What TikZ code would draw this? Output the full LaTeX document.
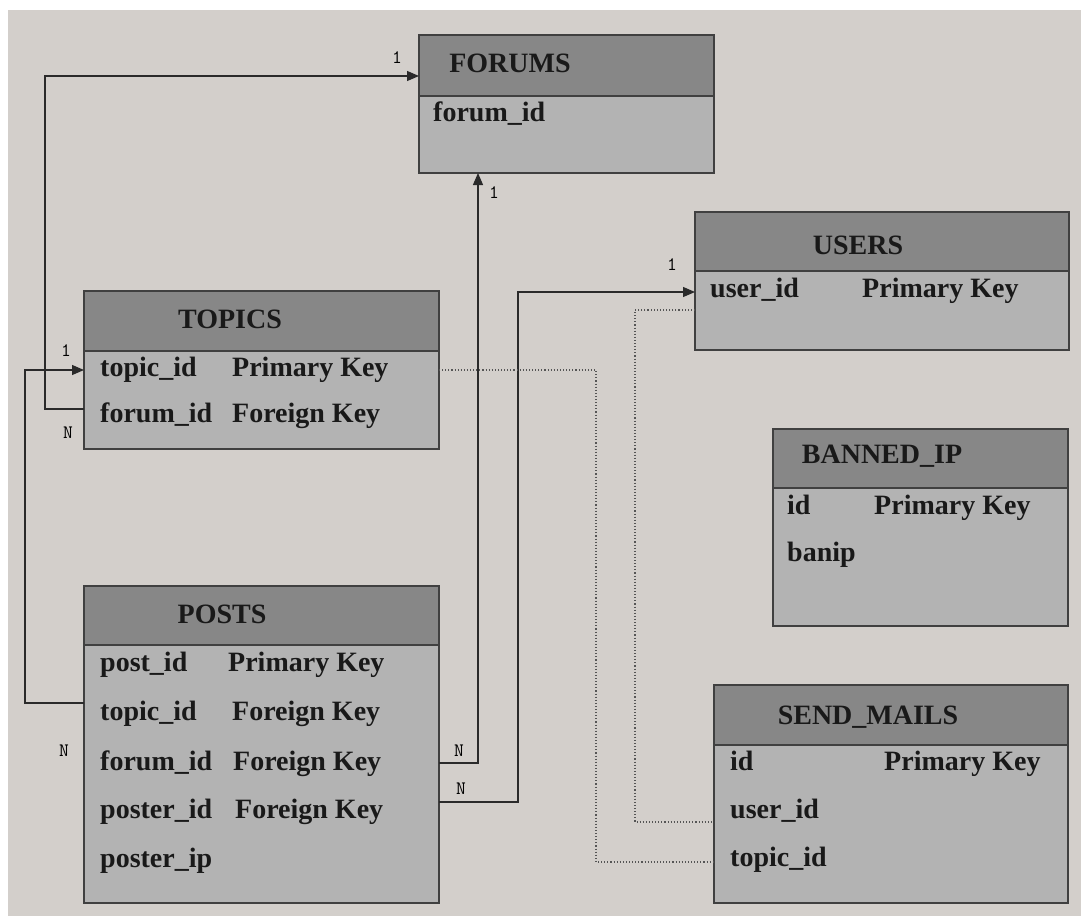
\documentclass[tikz,border=0pt]{standalone}
\usepackage{fontspec}
\setmainfont{Liberation Serif}
\usetikzlibrary{arrows.meta}
\definecolor{paper}{HTML}{D3CFCB}
\definecolor{headfill}{HTML}{878787}
\definecolor{bodyfill}{HTML}{B3B3B3}
\definecolor{boxline}{HTML}{404040}
\definecolor{linecol}{HTML}{2A2A2A}
\definecolor{dotcol}{HTML}{555555}
\begin{document}
\begin{tikzpicture}[x=1pt,y=-1pt,
  frame/.style={draw=boxline, line width=1.4pt, fill=bodyfill, inner sep=0pt, outer sep=0pt, anchor=north west},
  headbar/.style={draw=boxline, line width=1.4pt, fill=headfill, inner sep=0pt, outer sep=0pt, anchor=north west},
  title/.style={font=\bfseries\fontsize{28}{30}\selectfont, inner sep=0pt, text=black!90},
  field/.style={font=\bfseries\fontsize{28}{30}\selectfont, inner sep=0pt, anchor=west, text height=19pt, text depth=6pt, text=black!90},
  link/.style={draw=linecol, line width=1.2pt},
  arrowlink/.style={link, -{Triangle[length=12pt,width=10pt]}},
  dotlink/.style={draw=dotcol, line width=1.1pt, dotted},
  card/.style={font=\ttfamily\fontsize{19}{19}\selectfont, inner sep=0pt, text=black}
]
% canvas
\useasboundingbox (0,0) rectangle (1081,918);
\fill[white] (0,0) rectangle (1081,918);
\fill[paper] (8,10) rectangle (1081,916);

% FORUMS
\node[frame, minimum width=295pt, minimum height=138pt] (forums) at (419,35) {};
\node[headbar, minimum width=295pt, minimum height=61pt] (forums-head) at (forums.north west) {};
\node[title] (forums-title) at (510,63) {FORUMS};
\node[field] (forums-f1) at (433,115) {forum\_id};

% TOPICS
\node[frame, minimum width=355pt, minimum height=158pt] (topics) at (84,291) {};
\node[headbar, minimum width=355pt, minimum height=60pt] (topics-head) at (topics.north west) {};
\node[title] (topics-title) at (230,319) {TOPICS};
\node[field] (topics-f1) at (100,370) {topic\_id};
\node[field] (topics-k1) at (232,370) {Primary Key};
\node[field] (topics-f2) at (100,416) {forum\_id};
\node[field] (topics-k2) at (232,416) {Foreign Key};

% POSTS
\node[frame, minimum width=355pt, minimum height=317pt] (posts) at (84,586) {};
\node[headbar, minimum width=355pt, minimum height=59pt] (posts-head) at (posts.north west) {};
\node[title] (posts-title) at (222,614) {POSTS};
\node[field] (posts-f1) at (100,665) {post\_id};
\node[field] (posts-k1) at (228,665) {Primary Key};
\node[field] (posts-f2) at (100,714) {topic\_id};
\node[field] (posts-k2) at (232,714) {Foreign Key};
\node[field] (posts-f3) at (100,764) {forum\_id};
\node[field] (posts-k3) at (233,764) {Foreign Key};
\node[field] (posts-f4) at (100,812) {poster\_id};
\node[field] (posts-k4) at (235,812) {Foreign Key};
\node[field] (posts-f5) at (100,861) {poster\_ip};

% USERS
\node[frame, minimum width=374pt, minimum height=138pt] (users) at (695,212) {};
\node[headbar, minimum width=374pt, minimum height=59pt] (users-head) at (users.north west) {};
\node[title] (users-title) at (858,245) {USERS};
\node[field] (users-f1) at (710,291) {user\_id};
\node[field] (users-k1) at (862,291) {Primary Key};

% BANNED_IP
\node[frame, minimum width=295pt, minimum height=197pt] (banned) at (773,429) {};
\node[headbar, minimum width=295pt, minimum height=59pt] (banned-head) at (banned.north west) {};
\node[title] (banned-title) at (882,456) {BANNED\_IP};
\node[field] (banned-f1) at (787,508) {id};
\node[field] (banned-k1) at (874,508) {Primary Key};
\node[field] (banned-f2) at (787,555) {banip};

% SEND_MAILS
\node[frame, minimum width=354pt, minimum height=218pt] (mails) at (714,685) {};
\node[headbar, minimum width=354pt, minimum height=60pt] (mails-head) at (mails.north west) {};
\node[title] (mails-title) at (868,717) {SEND\_MAILS};
\node[field] (mails-f1) at (730,764) {id};
\node[field] (mails-k1) at (884,764) {Primary Key};
\node[field] (mails-f2) at (730,812) {user\_id};
\node[field] (mails-f3) at (730,860) {topic\_id};

% attachment points on the table edges
\coordinate (topics-fk) at (topics.west |- 0,409);
\coordinate (topics-pk) at (topics.west |- 0,370);
\coordinate (topics-out) at (topics.east |- 0,370);
\coordinate (forums-in) at (forums.west |- 0,76);
\coordinate (forums-bot) at (forums.south -| 478,0);
\coordinate (posts-tk) at (posts.west |- 0,703);
\coordinate (posts-fk) at (posts.east |- 0,763);
\coordinate (posts-uk) at (posts.east |- 0,802);
\coordinate (users-pk) at (users.west |- 0,292);
\coordinate (users-out) at (users.west |- 0,310);
\coordinate (mails-uk) at (mails.west |- 0,822);
\coordinate (mails-tk) at (mails.west |- 0,862);

% relations
\draw[arrowlink] (topics-fk) -- ++(-39,0) |- (forums-in);
\draw[arrowlink] (posts-tk) -- ++(-59,0) |- (topics-pk);
\draw[arrowlink] (posts-fk) -| (forums-bot);
\draw[arrowlink] (posts-uk) -- ++(79,0) |- (users-pk);
\draw[dotlink] (topics-out) -- ++(157,0) |- (mails-tk);
\draw[dotlink] (users-out) -- ++(-60,0) |- (mails-uk);

% cardinalities
\node[card] (c1) at (397,58) {1};
\node[card] (c2) at (68,433) {N};
\node[card] (c3) at (66,351) {1};
\node[card] (c4) at (64,751) {N};
\node[card] (c5) at (494,193) {1};
\node[card] (c6) at (459,751) {N};
\node[card] (c7) at (461,789) {N};
\node[card] (c8) at (672,265) {1};
\end{tikzpicture}
\end{document}
